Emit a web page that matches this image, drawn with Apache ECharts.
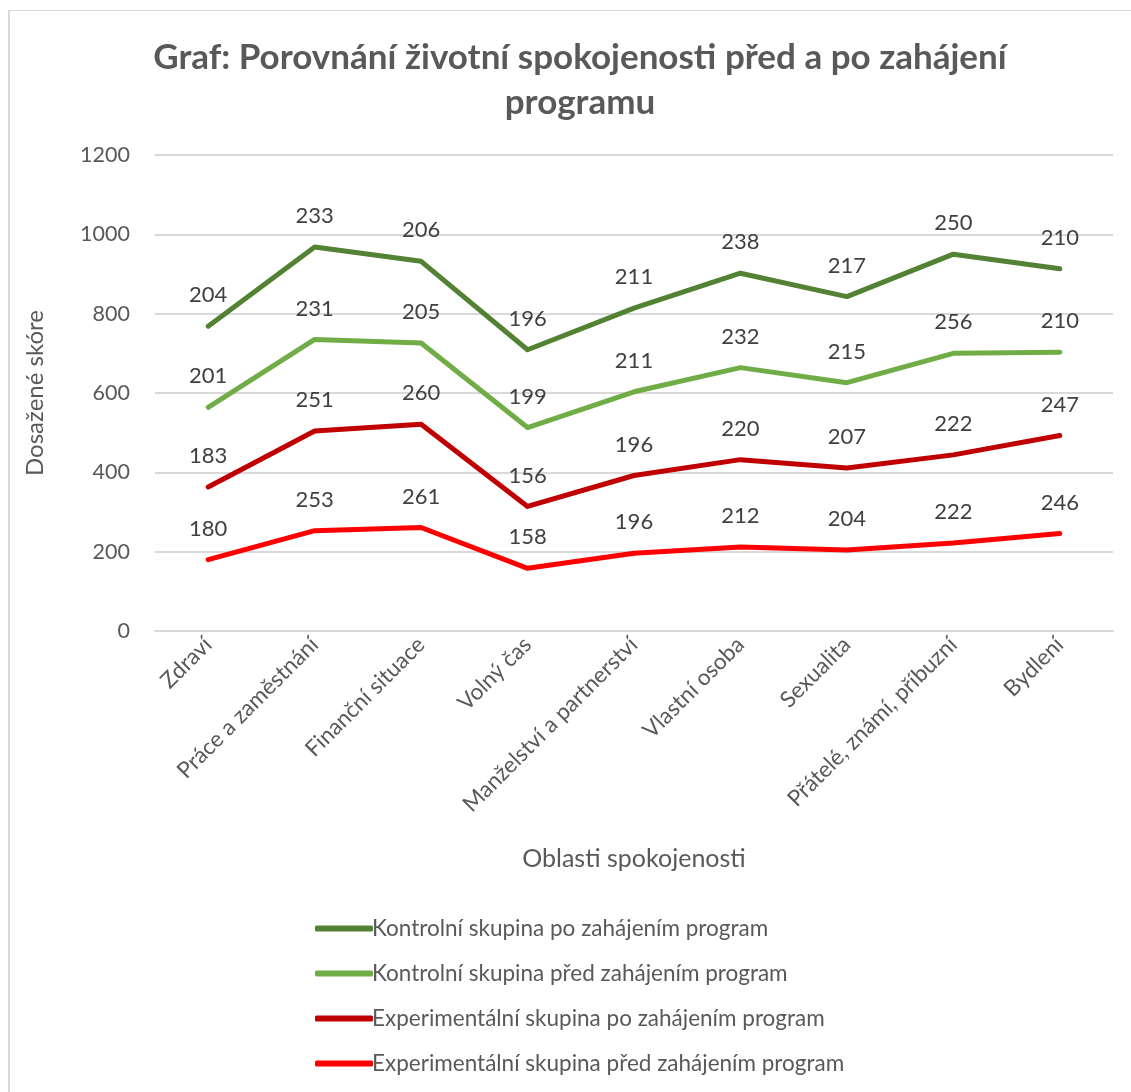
<!DOCTYPE html>
<html>
<head>
<meta charset="utf-8">
<script src="https://cdn.jsdelivr.net/npm/echarts@6/dist/echarts.min.js"></script>
<style>
	html, body { margin: 0; padding: 0; background: #fff; }
	#main { width: 1131px; height: 1092px; }
	.frame { position: absolute; left: 8px; top: 10px; right: -10px; bottom: -10px; border-top: 1px solid #d9d9d9; border-left: 2px solid #d9d9d9; pointer-events: none; }
</style>
</head>
<body>
<div id="main"></div>
<div class="frame"></div>
<script>
let categories = ["Zdraví", "Práce a zaměstnání", "Finanční situace", "Volný čas", "Manželství a partnerství", "Vlastní osoba", "Sexualita", "Přátelé, známí, příbuzní", "Bydlení"];
let expPred = [180, 253, 261, 158, 196, 212, 204, 222, 246];
let expPo = [183, 251, 260, 156, 196, 220, 207, 222, 247];
let kontrolPred = [201, 231, 205, 199, 211, 232, 215, 256, 210];
let kontrolPo = [204, 233, 206, 196, 211, 238, 217, 250, 210];
let yTicks = [0, 200, 400, 600, 800, 1000, 1200];

let font = "Lato, 'Open Sans', sans-serif";
let gray = "#595959";

function makeSeries(name, data, color) {
	return {
		name: name,
		type: "line",
		stack: "total",
		data: data,
		symbol: "circle",
		symbolSize: 2,
		showSymbol: true,
		lineStyle: { color: color, width: 5, cap: "round", join: "round" },
		itemStyle: { color: color },
		label: {
			show: true,
			position: "top",
			distance: 19,
			color: "#404040",
			fontSize: 22,
			fontFamily: font
		}
	};
}

let chart = echarts.init(document.getElementById("main"));
let option = {
	animation: false,
	title: {
		text: "Graf: Porovnání životní spokojenosti před a po zahájení\nprogramu",
		left: 575,
		textAlign: "center",
		top: 30,
		textStyle: {
			color: gray,
			fontSize: 35,
			fontWeight: "bold",
			fontFamily: font,
			lineHeight: 45
		}
	},
	legend: {
		orient: "vertical",
		left: 310,
		top: 912,
		itemWidth: 58,
		itemHeight: 6,
		itemGap: 22,
		icon: "roundRect",
		data: [
			"Kontrolní skupina po zahájením program",
			"Kontrolní skupina před zahájením program",
			"Experimentální skupina po zahájením program",
			"Experimentální skupina před zahájením program"
		],
		textStyle: { color: gray, fontSize: 22.5, fontFamily: font, padding: [0, 0, 0, -6] }
	},
	grid: {
		left: 155,
		right: 18,
		top: 155,
		bottom: 461
	},
	xAxis: {
		type: "category",
		data: categories,
		boundaryGap: true,
		name: "Oblasti spokojenosti",
		nameLocation: "middle",
		nameGap: 215,
		nameTextStyle: { color: gray, fontSize: 25, fontFamily: font },
		axisLine: { lineStyle: { color: "#d9d9d9", width: 2 } },
		axisTick: { show: false },
		axisLabel: {
			rotate: 45,
			interval: 0,
			margin: 10,
			color: gray,
			fontSize: 22.5,
			fontFamily: font
		}
	},
	yAxis: {
		type: "value",
		min: yTicks[0],
		max: yTicks[yTicks.length - 1],
		interval: yTicks[1] - yTicks[0],
		name: "Dosažené skóre",
		nameLocation: "middle",
		nameGap: 108,
		nameTextStyle: { color: gray, fontSize: 24, fontFamily: font },
		axisLine: { show: false },
		axisTick: { show: false },
		axisLabel: {
			color: gray,
			fontSize: 21.5,
			fontFamily: font,
			margin: 25,
			formatter: function(v) { return String(v); }
		},
		splitLine: { lineStyle: { color: "#d9d9d9", width: 2 } }
	},
	series: [
		makeSeries("Experimentální skupina před zahájením program", expPred, "#FF0000"),
		makeSeries("Experimentální skupina po zahájením program", expPo, "#C00000"),
		makeSeries("Kontrolní skupina před zahájením program", kontrolPred, "#70AD47"),
		makeSeries("Kontrolní skupina po zahájením program", kontrolPo, "#548235")
	]
};
chart.setOption(option);
</script>
</body>
</html>
